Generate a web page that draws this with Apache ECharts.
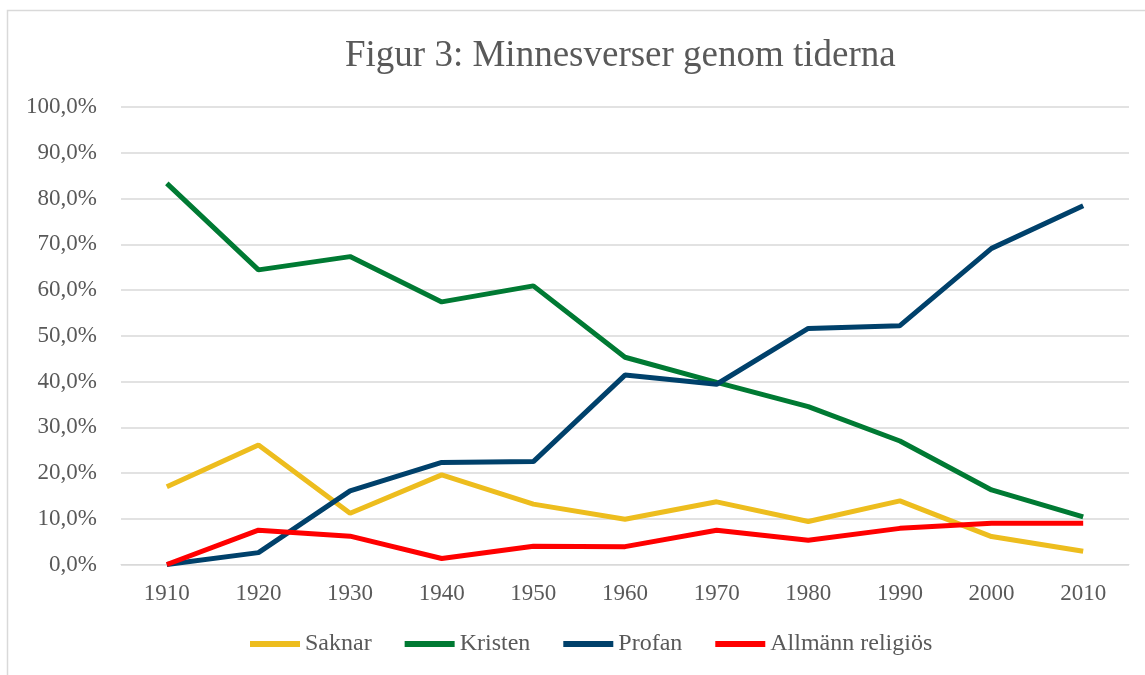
<!DOCTYPE html>
<html>
<head>
<meta charset="utf-8">
<script src="https://cdn.jsdelivr.net/npm/echarts@6/dist/echarts.min.js"></script>
<style>
  body { margin: 0; background: #fff; }
  #chart { width: 1145px; height: 675px; }
</style>
</head>
<body>
<div id="chart"></div>
<script>
// årtal och andelar (%)
var years = ['1910', '1920', '1930', '1940', '1950', '1960', '1970', '1980', '1990', '2000', '2010']
var saknar = [17.0, 26.1, 11.2, 19.6, 13.2, 9.9, 13.7, 9.4, 13.9, 6.1, 2.9]
var kristen = [83.3, 64.4, 67.3, 57.4, 60.9, 45.3, 39.8, 34.5, 27.0, 16.3, 10.4]
var profan = [0.0, 2.6, 16.1, 22.3, 22.5, 41.4, 39.4, 51.6, 52.2, 69.1, 78.4]
var allmann = [0.0, 7.5, 6.2, 1.3, 4.0, 3.9, 7.5, 5.3, 7.9, 9.0, 9.0]

var chart = echarts.init(document.getElementById('chart'))
var font = 'Liberation Serif, Times New Roman, serif'
var textColor = '#595959'

function line(name, data, color) {
  return {
    name: name,
    type: 'line',
    data: data,
    symbol: 'none',
    lineStyle: { width: 5, color: color },
    itemStyle: { color: color }
  }
}

var option = {
  animation: false,
  textStyle: { fontFamily: font },
  graphic: [
    {
      type: 'rect',
      shape: { x: 7.5, y: 10.5, width: 1200, height: 700 },
      style: { fill: 'none', stroke: '#d9d9d9', lineWidth: 1.5 },
      silent: true
    }
  ],
  title: {
    text: 'Figur 3: Minnesverser genom tiderna',
    left: 340,
    top: 33,
    textStyle: { fontFamily: font, fontSize: 37, fontWeight: 'normal', color: textColor }
  },
  legend: {
    bottom: 14,
    left: 245,
    icon: 'rect',
    itemWidth: 50,
    itemHeight: 6,
    itemGap: 33,
    textStyle: { fontFamily: font, fontSize: 24, color: textColor }
  },
  grid: { left: 121, right: 16, top: 107, bottom: 110.5 },
  xAxis: {
    type: 'category',
    data: years,
    boundaryGap: true,
    axisLine: { lineStyle: { color: '#d9d9d9', width: 1 } },
    axisTick: { show: false },
    axisLabel: { fontFamily: font, fontSize: 23, color: textColor, margin: 18 }
  },
  yAxis: {
    type: 'value',
    min: 0,
    max: 100,
    interval: 10,
    axisLine: { show: false },
    axisTick: { show: false },
    splitLine: { lineStyle: { color: '#d9d9d9', width: 1.5 } },
    axisLabel: {
      fontFamily: font,
      fontSize: 23,
      color: textColor,
      margin: 24,
      formatter: function (v) { return v.toFixed(1).replace('.', ',') + '%' }
    }
  },
  series: [
    line('Saknar', saknar, '#EDBD1E'),
    line('Kristen', kristen, '#007A33'),
    line('Profan', profan, '#00416B'),
    line('Allmänn religiös', allmann, '#FF0000')
  ]
}

chart.setOption(option)
</script>
</body>
</html>
